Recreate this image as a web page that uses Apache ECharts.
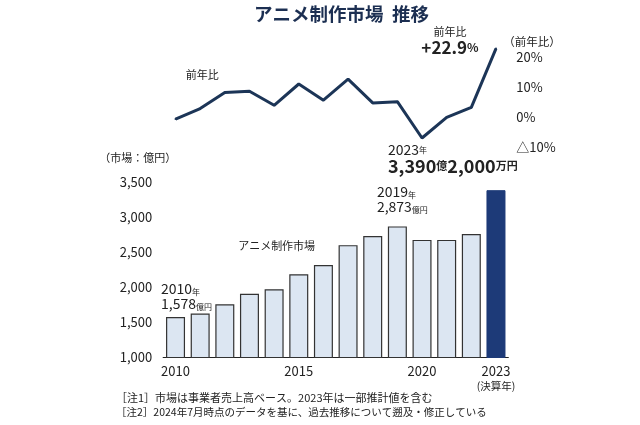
<!DOCTYPE html>
<html>
<head>
<meta charset="utf-8">
<script src="https://cdn.jsdelivr.net/npm/echarts@6/dist/echarts.min.js"></script>
<style>
html,body{margin:0;padding:0;background:#fff;}
#c{width:640px;height:425px;}
</style>
</head>
<body>
<div id="c"></div>
<script>
// ---- data ----
const years = ['2010','2011','2012','2013','2014','2015','2016','2017','2018','2019','2020','2021','2022','2023'];
const market = [1578, 1628, 1760, 1910, 1975, 2190, 2320, 2605, 2735, 2873, 2680, 2680, 2765, 3390.2];
const yoy = [-0.6, 2.9, 8.3, 8.7, 4.0, 11.1, 5.7, 12.7, 4.8, 5.2, -6.9, 0.0, 3.3, 22.9];
const shownYears = ['2010','2015','2020','2023'];
const barTicks = [1000, 1500, 2000, 2500, 3000, 3500];
const yoyTicks = [-10, 0, 10, 20];

const FONT = '"Noto Sans CJK JP", "Noto Sans", sans-serif';
const TXT = '#222';
const NAVY = '#1c3557';

function fmtNum(v){ return Math.floor(v).toLocaleString('en-US'); }
function fmtOku(v){
  const oku = Math.floor(v);
  const man = Math.round((v - oku) * 10000);
  return '{b|' + fmtNum(oku) + '}{bs|億}{b|' + man.toLocaleString('en-US') + '}{bs|万円}';
}

const barData = market.map((v, i) => {
  const last = i === market.length - 1;
  const item = {
    value: v,
    itemStyle: last ? {color: '#1d3a78', borderColor: '#1d3a78', borderWidth: 1} : undefined
  };
  if (i === 0 || i === 9) {
    item.label = {
      show: true, position: 'top', distance: 0, align: 'left', verticalAlign: 'bottom',
      offset: i === 0 ? [-14.5, -6] : [-20.5, -12],
      formatter: () => '{n|' + years[i] + '}{s|年}\n{n|' + fmtNum(v) + '}{s|億円}',
      rich: {
        n: {fontSize: 14, fontFamily: FONT, color: TXT, lineHeight: 15},
        s: {fontSize: 8, fontFamily: FONT, color: TXT, lineHeight: 15, verticalAlign: 'bottom'}
      }
    };
  }
  if (i === 4) {
    item.label = {
      show: true, position: 'top', distance: 0, align: 'center', verticalAlign: 'bottom',
      offset: [2.5, -38], formatter: 'アニメ制作市場',
      fontSize: 11, fontFamily: FONT, color: TXT
    };
  }
  if (last) {
    item.label = {
      show: true, position: 'top', distance: 0, align: 'left', verticalAlign: 'bottom',
      offset: [-108, -15],
      formatter: () => '{n|' + years[i] + '}{s|年}\n' + fmtOku(v),
      rich: {
        n: {fontSize: 14, fontFamily: FONT, color: TXT, lineHeight: 14},
        s: {fontSize: 8, fontFamily: FONT, color: TXT, lineHeight: 14},
        b: {fontSize: 18, fontFamily: FONT, color: TXT, fontWeight: 'bold', lineHeight: 18},
        bs: {fontSize: 11, fontFamily: FONT, color: TXT, fontWeight: 'bold', lineHeight: 18}
      }
    };
  }
  return item;
});

const lineData = yoy.map((v, i) => {
  const item = {value: v};
  if (i === 1) {
    item.label = {
      show: true, position: 'top', distance: 0, align: 'center', verticalAlign: 'bottom',
      offset: [2, -27], formatter: '前年比', fontSize: 11, fontFamily: FONT, color: TXT
    };
  }
  if (i === yoy.length - 1) {
    item.label = {
      show: true, position: 'inside', align: 'center', verticalAlign: 'middle',
      offset: [-46, -8],
      formatter: () => '{t|前年比}\n{p|+' + v.toFixed(1) + '}{ps|%}',
      rich: {
        t: {fontSize: 11, fontFamily: FONT, color: TXT, lineHeight: 14, align: 'center'},
        p: {fontSize: 17, fontFamily: FONT, color: TXT, fontWeight: 'bold', lineHeight: 17},
        ps: {fontSize: 12, fontFamily: FONT, color: TXT, fontWeight: 'bold', lineHeight: 17}
      }
    };
  }
  return item;
});

const chart = echarts.init(document.getElementById('c'), null, {renderer: 'canvas'});
chart.setOption({
  backgroundColor: '#fff',
  animation: false,
  title: {
    text: 'アニメ制作市場  推移',
    left: 249, top: 0,
    textStyle: {fontSize: 18.5, fontFamily: FONT, color: '#1c2f52', fontWeight: 'bold'}
  },
  grid: [
    {left: 163.2, right: 131.7, top: 57.3, bottom: 277.7},
    {left: 163.2, right: 131.7, top: 182.5, bottom: 67.5}
  ],
  xAxis: [
    {gridIndex: 0, type: 'category', data: years, boundaryGap: true, show: false},
    {gridIndex: 1, type: 'category', data: years, boundaryGap: true,
     axisLine: {show: true, lineStyle: {color: '#222', width: 1.2}},
     axisTick: {show: false},
     axisLabel: {
       interval: 0, margin: 6, color: TXT, fontSize: 13, fontFamily: FONT, lineHeight: 15,
       formatter: (v) => shownYears.includes(v) ? (v === '2023' ? '{y|' + v + '}\n{f|(決算年)}' : v) : '',
       rich: {
         y: {fontSize: 13, fontFamily: FONT, color: TXT, lineHeight: 15},
         f: {fontSize: 10.5, fontFamily: FONT, color: TXT, lineHeight: 15}
       }
     }}
  ],
  yAxis: [
    {gridIndex: 0, type: 'value', position: 'right', min: yoyTicks[0], max: yoyTicks[yoyTicks.length-1], interval: 10,
     splitLine: {show: false}, axisLine: {show: false}, axisTick: {show: false},
     name: '（前年比）', nameLocation: 'end', nameGap: 10,
     nameTextStyle: {fontSize: 11.5, fontFamily: FONT, color: TXT, align: 'left', padding: [0,0,0,-5]},
     axisLabel: {margin: 8, color: TXT, fontSize: 13, fontFamily: FONT, align: 'left',
       formatter: (v) => v < 0 ? '△' + Math.abs(v) + '%' : v + '%'}},
    {gridIndex: 1, type: 'value', min: barTicks[0], max: barTicks[barTicks.length-1], interval: 500,
     splitLine: {show: false}, axisLine: {show: false}, axisTick: {show: false},
     name: '（市場：億円）', nameLocation: 'end', nameGap: 19,
     nameTextStyle: {fontSize: 11, fontFamily: FONT, color: TXT, align: 'left', padding: [0,0,0,-64]},
     axisLabel: {margin: 11, color: TXT, fontSize: 13, fontFamily: FONT,
       formatter: (v) => fmtNum(v)}}
  ],
  series: [
    {type: 'line', xAxisIndex: 0, yAxisIndex: 0, data: lineData, clip: false,
     symbol: 'circle', symbolSize: 2, showSymbol: true,
     lineStyle: {color: NAVY, width: 3}, itemStyle: {color: NAVY}, z: 5},
    {type: 'bar', xAxisIndex: 1, yAxisIndex: 1, data: barData, barWidth: 19,
     itemStyle: {color: '#dce6f2', borderColor: '#333', borderWidth: 1.2}}
  ],
  graphic: [
    {type: 'text', left: 116, top: 392,
     style: {text: '［注1］市場は事業者売上高ベース。2023年は一部推計値を含む', fontSize: 11, fontFamily: FONT, fill: TXT}},
    {type: 'text', left: 116, top: 407,
     style: {text: '［注2］2024年7月時点のデータを基に、過去推移について遡及・修正している', fontSize: 10.5, fontFamily: FONT, fill: TXT}}
  ]
});
</script>
</body>
</html>
